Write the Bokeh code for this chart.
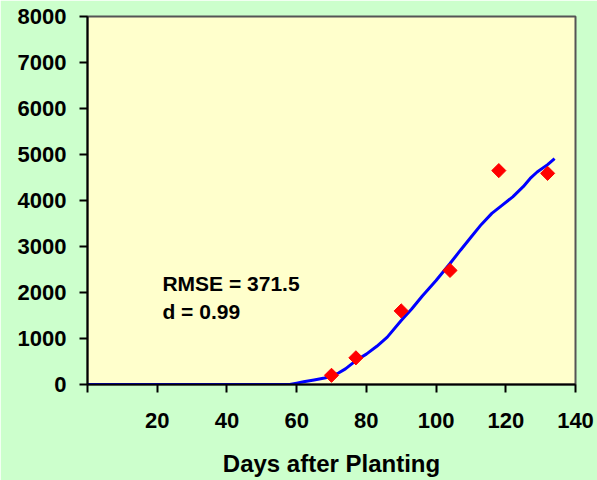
import math
from bokeh.plotting import figure
from bokeh.models import Range1d, FixedTicker, Label
from bokeh.embed import file_html
from bokeh.resources import INLINE

# Simulated curve (days after planting, value)
sim_days = [0, 58, 60, 62, 65, 68, 70, 72, 74, 77, 80, 83, 86, 90, 93, 96, 100, 104,
            107, 110, 113, 116, 119, 122, 125, 127, 129, 132, 134]
sim_vals = [0, 0, 30, 60, 100, 140, 180, 250, 340, 520, 660, 830, 1030, 1390, 1640,
            1920, 2260, 2630, 2920, 3200, 3480, 3720, 3900, 4080, 4300, 4480, 4620,
            4780, 4910]

# Observed points
obs_days = [70, 77, 90, 104, 118, 132]
obs_vals = [200, 580, 1600, 2480, 4650, 4590]

x_ticks = [0, 20, 40, 60, 80, 100, 120, 140]
x_tick_labels = {0: "", 20: "20", 40: "40", 60: "60", 80: "80", 100: "100", 120: "120", 140: "140"}
y_ticks = [0, 1000, 2000, 3000, 4000, 5000, 6000, 7000, 8000]

stats_lines = ["RMSE = 371.5", "d = 0.99"]

FONT = "Liberation Sans"

p = figure(width=597, height=480, output_backend="svg", toolbar_location=None,
           x_range=Range1d(0, 140), y_range=Range1d(0, 8000),
           min_border_left=87, min_border_right=22, min_border_top=16, min_border_bottom=96)
p.background_fill_color = "#FFFFCC"
p.border_fill_color = "#CCFFCC"
p.outline_line_color = "#555555"
p.outline_line_width = 2
p.grid.visible = False

p.xaxis.ticker = FixedTicker(ticks=x_ticks)
p.xaxis.major_label_overrides = x_tick_labels
p.yaxis.ticker = FixedTicker(ticks=y_ticks)
for ax in (p.xaxis[0], p.yaxis[0]):
    ax.axis_line_color = "black"
    ax.axis_line_width = 2
    ax.major_tick_line_color = "black"
    ax.major_tick_line_width = 2
    ax.major_tick_out = 8
    ax.major_tick_in = 0
    ax.minor_tick_out = 0
    ax.minor_tick_in = 0
    ax.major_label_text_font = FONT
    ax.major_label_text_font_style = "bold"
    ax.major_label_text_font_size = "22px"
    ax.major_label_text_color = "black"

p.xaxis.major_label_standoff = 20
p.yaxis.major_label_standoff = 13
p.xaxis.axis_label = "Days after Planting"
p.xaxis.axis_label_text_font = FONT
p.xaxis.axis_label_text_font_style = "bold"
p.xaxis.axis_label_text_font_size = "24px"
p.xaxis.axis_label_text_color = "black"
p.xaxis.axis_label_standoff = 19

p.line(sim_days, sim_vals, line_color="#0000FF", line_width=3)
p.scatter(obs_days, obs_vals, marker="square", angle=math.pi / 4, size=10,
          fill_color="#FF0000", line_color="#FF0000")

p.add_layout(Label(x=21.5, y=2190, text=stats_lines[0], text_font=FONT,
                   text_font_style="bold", text_font_size="21px", text_color="black",
                   text_baseline="middle"))
p.add_layout(Label(x=21.5, y=1580, text=stats_lines[1], text_font=FONT,
                   text_font_style="bold", text_font_size="21px", text_color="black",
                   text_baseline="middle"))

open("out.html", "w").write(file_html(p, INLINE))
